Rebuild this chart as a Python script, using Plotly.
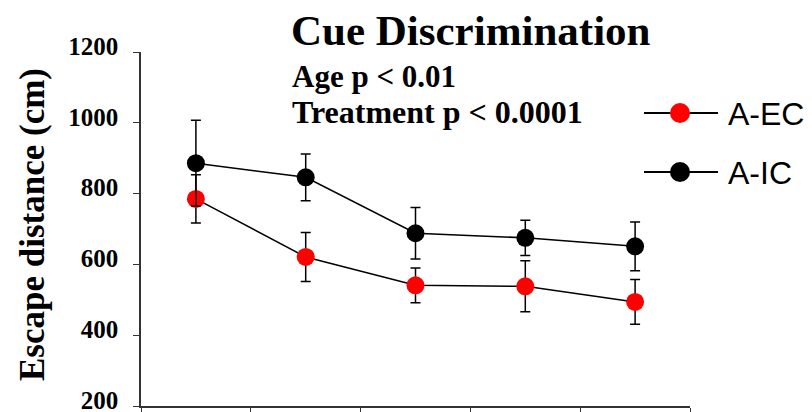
import plotly.graph_objects as go

sessions = [1, 2, 3, 4, 5]
aec_mean = [785, 621, 541, 538, 494]
aec_err = [68, 69, 49, 72, 63]
aic_mean = [886, 846, 688, 675, 651]
aic_err = [121, 66, 73, 50, 69]
y_ticks = [200, 400, 600, 800, 1000, 1200]
x_bounds = [0.5, 1.5, 2.5, 3.5, 4.5, 5.5]
series_names = ["A-EC", "A-IC"]
series_colors = ["red", "black"]

serif = "Liberation Serif, Times New Roman, serif"
sans = "Liberation Sans, Arial, sans-serif"

fig = go.Figure()
for name, mean, err, col in zip(series_names, [aec_mean, aic_mean],
                                [aec_err, aic_err], series_colors):
    fig.add_trace(go.Scatter(
        x=sessions, y=mean, name=name, mode="lines+markers",
        line=dict(color="black", width=1.5),
        marker=dict(color=col, size=18),
        error_y=dict(type="data", array=err, color="black", thickness=1.5, width=5),
        showlegend=False,
    ))

# custom legend (long line sample with large marker), in pixel-based paper coords
plot_l, plot_r, plot_t, plot_b = 141, 690, 52, 406
def px_x(p):
    return (p - plot_l) / (plot_r - plot_l)
def px_y(p):
    return (plot_b - p) / (plot_b - plot_t)

shapes = []
annotations = []
for i, (name, col) in enumerate(zip(series_names, series_colors)):
    cy = 113 + i * 59
    shapes.append(dict(type="line", xref="paper", yref="paper",
                       x0=px_x(644), x1=px_x(718), y0=px_y(cy), y1=px_y(cy),
                       line=dict(color="black", width=2)))
    shapes.append(dict(type="circle", xref="paper", yref="paper",
                       x0=px_x(670), x1=px_x(690), y0=px_y(cy - 10), y1=px_y(cy + 10),
                       fillcolor=col, line=dict(width=0)))
    annotations.append(dict(text=name, xref="paper", yref="paper",
                            x=px_x(726), y=px_y(cy + 1), xanchor="left", yanchor="middle",
                            showarrow=False,
                            font=dict(family=sans, size=32, color="black")))

annotations += [
    dict(text="<b>Cue Discrimination</b>", xref="paper", yref="paper",
         x=px_x(289), y=px_y(31), xanchor="left", yanchor="middle", showarrow=False,
         font=dict(family=serif, size=43, color="black")),
    dict(text="<b>Age p < 0.01</b>", xref="paper", yref="paper",
         x=px_x(290), y=px_y(76), xanchor="left", yanchor="middle", showarrow=False,
         font=dict(family=serif, size=31, color="black")),
    dict(text="<b>Treatment p < 0.0001</b>", xref="paper", yref="paper",
         x=px_x(290), y=px_y(112), xanchor="left", yanchor="middle", showarrow=False,
         font=dict(family=serif, size=32, color="black")),
    dict(text="<b>Escape distance (cm)</b>", xref="paper", yref="paper",
         x=px_x(32), y=px_y(225), xanchor="center", yanchor="middle", showarrow=False,
         textangle=-90,
         font=dict(family=serif, size=35, color="black")),
]

fig.update_layout(
    width=812, height=412,
    margin=dict(l=plot_l, r=812 - plot_r, t=plot_t, b=412 - plot_b),
    paper_bgcolor="white", plot_bgcolor="white",
    showlegend=False,
    shapes=shapes,
    annotations=annotations,
    xaxis=dict(range=[0.5, 5.5], tickvals=x_bounds, ticktext=[""] * len(x_bounds),
               ticks="outside", ticklen=6, tickcolor="#333", showline=True,
               linecolor="#333", linewidth=1.5, showgrid=False, zeroline=False,
               automargin=False),
    yaxis=dict(range=[200, 1200], tickvals=y_ticks,
               ticktext=[f"<b>{v}</b>" for v in y_ticks],
               ticks="outside", ticklen=6, automargin=False,
               tickcolor="#333", showline=True, linecolor="#333", linewidth=1.5,
               showgrid=False, zeroline=False, ticklabeloverflow="allow",
               ticklabelstandoff=10, ticklabelshift=-6,
               tickfont=dict(family=serif, size=25, color="black")),
)
fig.write_html("out.html")
